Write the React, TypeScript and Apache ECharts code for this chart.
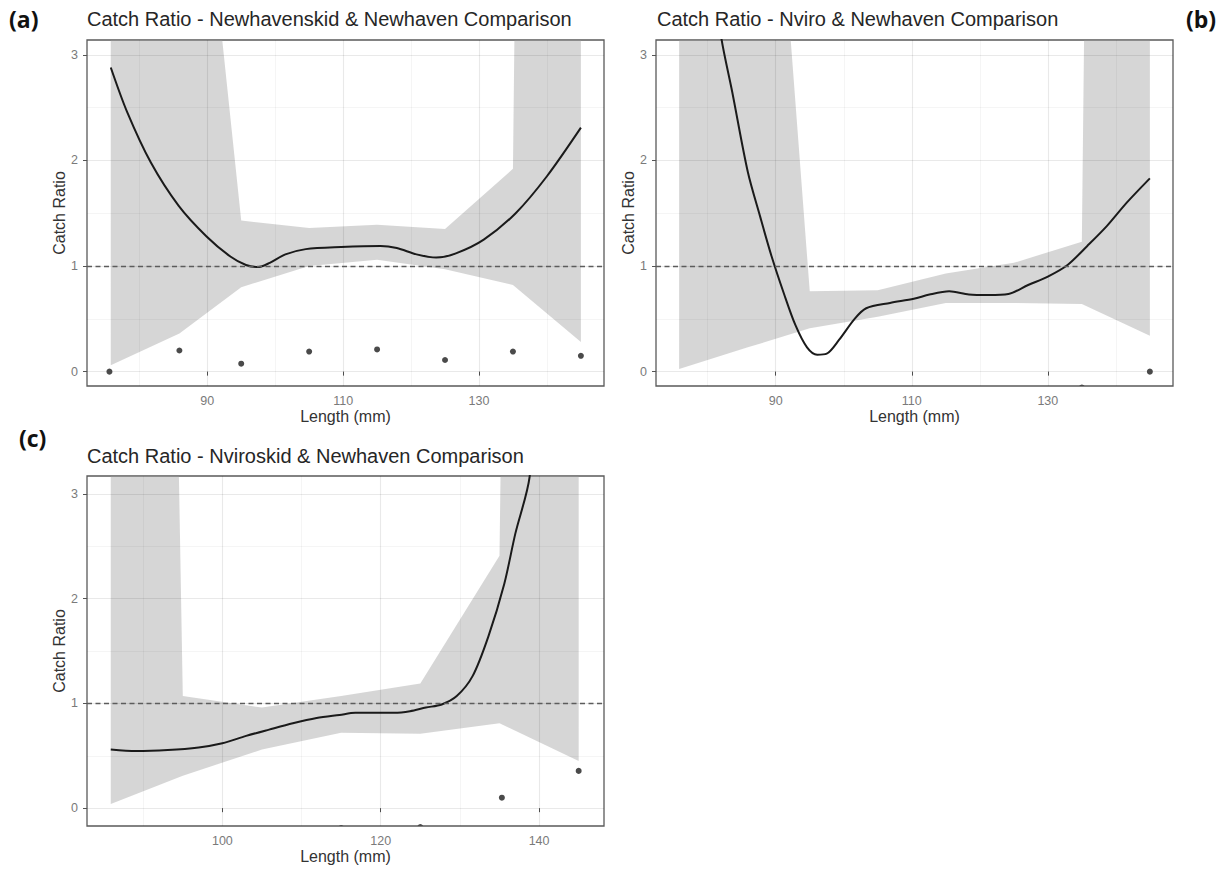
import React, { useEffect, useRef } from "react";
import * as echarts from "echarts";

// ---------- data ----------
const TITLES = [
  "Catch Ratio - Newhavenskid & Newhaven Comparison",
  "Catch Ratio - Nviro & Newhaven Comparison",
  "Catch Ratio - Nviroskid & Newhaven Comparison",
];
const PANEL_LABELS = ["(a)", "(b)", "(c)"];

const Y_LABELS = [0, 1, 2, 3];
const Y_GRID_MINOR = [0.5, 1.5, 2.5];
const X_LABELS_AB = [90, 110, 130];
const X_GRID_MINOR_AB = [80, 100, 120, 140];
const X_LABELS_C = [100, 120, 140];
const X_GRID_MINOR_C = [90, 110, 130];

// ribbon (confidence band) knots
const X_AB = [75.8, 85.9, 95, 105, 115, 125, 135, 145];
const A_LOWER = [0.06, 0.36, 0.8, 1.0, 1.06, 0.97, 0.82, 0.28];
const A_UPPER = [40, 7.0, 1.43, 1.36, 1.39, 1.35, 1.92, 60];
const B_LOWER = [0.025, 0.23, 0.41, 0.52, 0.65, 0.65, 0.64, 0.34];
const B_UPPER = [40, 8.5, 0.76, 0.77, 0.93, 1.03, 1.23, 60];
const X_C = [85.9, 95, 105, 115, 125, 135, 145];
const C_LOWER = [0.04, 0.31, 0.56, 0.72, 0.71, 0.81, 0.45];
const C_UPPER = [40, 1.07, 0.96, 1.07, 1.19, 2.41, 60];

// smoothed catch ratio curves
const A_CURVE_X = [75.8, 78.2, 81.7, 85.8, 89.9, 93.4, 95.7, 97.5, 99.2, 101.5, 104.5, 109.7, 115.5, 117.9, 120.8, 123.7, 126.6, 130.7, 135.4, 140.0, 145.0];
const A_CURVE_Y = [2.88, 2.46, 1.98, 1.57, 1.28, 1.09, 1.01, 0.99, 1.03, 1.11, 1.16, 1.18, 1.19, 1.17, 1.11, 1.08, 1.12, 1.25, 1.5, 1.85, 2.31];
const B_CURVE_X = [75.8, 78, 80, 82.0, 83.6, 85.9, 87.7, 89.4, 91.2, 92.9, 94.6, 96.1, 97.5, 99.3, 101.6, 103.3, 106.8, 110.3, 112.6, 115.5, 118.4, 121.3, 124.2, 127.1, 130.0, 132.9, 135.8, 138.7, 141.6, 145.0];
const B_CURVE_Y = [6.5, 5.2, 4.1, 3.16, 2.65, 1.89, 1.47, 1.09, 0.74, 0.44, 0.23, 0.16, 0.17, 0.3, 0.5, 0.6, 0.65, 0.69, 0.73, 0.76, 0.73, 0.725, 0.735, 0.82, 0.9, 1.01, 1.19, 1.38, 1.6, 1.83];
const C_CURVE_X = [85.9, 89.1, 93.1, 97.0, 100.0, 103.0, 105.9, 108.9, 111.9, 114.8, 116.8, 121.7, 123.7, 125.7, 127.7, 129.6, 131.6, 133.6, 135.6, 137.0, 138.8, 141, 145];
const C_CURVE_Y = [0.56, 0.545, 0.555, 0.58, 0.62, 0.69, 0.75, 0.81, 0.86, 0.89, 0.91, 0.91, 0.925, 0.96, 0.99, 1.07, 1.26, 1.64, 2.14, 2.62, 3.16, 5.0, 12.0];

// observed points
const A_DOT_X = [75.6, 85.9, 95, 105, 115, 125, 135, 145];
const A_DOT_Y = [0, 0.2, 0.075, 0.19, 0.21, 0.11, 0.19, 0.15];
const B_DOT_X = [135, 145];
const B_DOT_Y = [-0.15, 0];
const C_DOT_X = [115, 125, 135.3, 145];
const C_DOT_Y = [-0.19, -0.18, 0.1, 0.356];

const FONT = '"Liberation Sans", Arial, Helvetica, sans-serif';
const zip = (xs: number[], ys: number[]) => xs.map((x, i) => [x, ys[i]]);

type Panel = {
  grid: any;
  xMin: number; xMax: number; yMin: number; yMax: number;
  xLabels: number[]; xMinor: number[];
  rx: number[]; lower: number[]; upper: number[];
  cx: number[]; cy: number[];
  dx: number[]; dy: number[];
  nameGapX: number;
};

const PANELS: Panel[] = [
  {
    grid: { left: 87, top: 40, width: 517, height: 346 },
    xMin: 72.3, xMax: 148.4, yMin: -0.136, yMax: 3.14,
    xLabels: X_LABELS_AB, xMinor: X_GRID_MINOR_AB,
    rx: X_AB, lower: A_LOWER, upper: A_UPPER,
    cx: A_CURVE_X, cy: A_CURVE_Y, dx: A_DOT_X, dy: A_DOT_Y, nameGapX: 22,
  },
  {
    grid: { left: 656, top: 40, width: 517, height: 346 },
    xMin: 72.4, xMax: 148.4, yMin: -0.136, yMax: 3.14,
    xLabels: X_LABELS_AB, xMinor: X_GRID_MINOR_AB,
    rx: X_AB, lower: B_LOWER, upper: B_UPPER,
    cx: B_CURVE_X, cy: B_CURVE_Y, dx: B_DOT_X, dy: B_DOT_Y, nameGapX: 22,
  },
  {
    grid: { left: 87, top: 476, width: 517, height: 350 },
    xMin: 82.9, xMax: 148.2, yMin: -0.17, yMax: 3.17,
    xLabels: X_LABELS_C, xMinor: X_GRID_MINOR_C,
    rx: X_C, lower: C_LOWER, upper: C_UPPER,
    cx: C_CURVE_X, cy: C_CURVE_Y, dx: C_DOT_X, dy: C_DOT_Y, nameGapX: 22,
  },
];

function buildOption() {
  const grids: any[] = [];
  const xAxes: any[] = [];
  const yAxes: any[] = [];
  const series: any[] = [];

  PANELS.forEach((p, i) => {
    grids.push({ ...p.grid, show: true, borderColor: "#5a5a5a", borderWidth: 1.3, backgroundColor: "transparent", containLabel: false });
    xAxes.push({
      gridIndex: i, type: "value", min: p.xMin, max: p.xMax,
      axisLine: { show: false },
      axisTick: { show: true, customValues: p.xLabels, length: 4, lineStyle: { color: "#555" } },
      axisLabel: { customValues: p.xLabels, color: "#7a7a7a", fontSize: 12.5, margin: 8, fontFamily: FONT },
      splitLine: { show: false },
      name: "Length (mm)", nameLocation: "middle", nameGap: p.nameGapX,
      nameTextStyle: { color: "#333", fontSize: 16, fontFamily: FONT },
    });
    yAxes.push({
      gridIndex: i, type: "value", min: p.yMin, max: p.yMax,
      axisLine: { show: false },
      axisTick: { show: true, customValues: Y_LABELS, length: 4, lineStyle: { color: "#555" } },
      axisLabel: { customValues: Y_LABELS, color: "#7a7a7a", fontSize: 12.5, margin: 9, fontFamily: FONT },
      splitLine: { show: false },
      name: "Catch Ratio", nameLocation: "middle", nameGap: 19, nameRotate: 90,
      nameTextStyle: { color: "#333", fontSize: 16, fontFamily: FONT },
    });

    const major = { color: "rgba(0,0,0,0.085)", width: 1.1, type: "solid" };
    const minor = { color: "rgba(0,0,0,0.05)", width: 0.8, type: "solid" };
    const gridLines = [
      ...Y_LABELS.map((v) => ({ yAxis: v, lineStyle: major })),
      ...Y_GRID_MINOR.map((v) => ({ yAxis: v, lineStyle: minor })),
      ...p.xLabels.map((v) => ({ xAxis: v, lineStyle: major })),
      ...p.xMinor.map((v) => ({ xAxis: v, lineStyle: minor })),
    ];

    // confidence ribbon: one polygon (upper edge forward, lower edge back), clipped to the grid
    series.push({
      type: "custom", xAxisIndex: i, yAxisIndex: i, coordinateSystem: "cartesian2d",
      data: p.rx.map((x, k) => [x, p.lower[k], p.upper[k]]),
      encode: { x: 0, y: [1, 2] }, clip: true, z: 2, silent: true,
      renderItem: (params: any, api: any) => {
        if (params.dataIndexInside !== 0) return null;
        const up = p.rx.map((x, k) => api.coord([x, p.upper[k]]));
        const lo = p.rx.map((x, k) => api.coord([x, p.lower[k]])).reverse();
        return {
          type: "polygon",
          shape: { points: [...up, ...lo] },
          style: { fill: "rgba(153,153,153,0.4)" },
        };
      },
    });
    // fitted curve + reference lines
    series.push({
      type: "line", xAxisIndex: i, yAxisIndex: i,
      data: zip(p.cx, p.cy), symbol: "none", showSymbol: false, smooth: 0.3,
      lineStyle: { color: "#1a1a1a", width: 2 }, silent: true, z: 4, clip: true,
      markLine: {
        silent: true, symbol: ["none", "none"], label: { show: false }, animation: false,
        data: [
          ...gridLines,
          { yAxis: 1, lineStyle: { color: "#5c5c5c", width: 1.4, type: [5, 3.5] } },
        ],
      },
    });
    // observed points
    series.push({
      type: "custom", xAxisIndex: i, yAxisIndex: i, coordinateSystem: "cartesian2d",
      data: zip(p.dx, p.dy), clip: true, z: 6, silent: true,
      encode: { x: 0, y: 1 },
      renderItem: (params: any, api: any) => {
        const pt = api.coord([api.value(0), api.value(1)]);
        return { type: "circle", shape: { cx: pt[0], cy: pt[1], r: 3 }, style: { fill: "#4a4a4a" } };
      },
    });
  });

  const titles: any[] = [
    { text: TITLES[0], left: 87, top: 9 },
    { text: TITLES[1], left: 657, top: 9 },
    { text: TITLES[2], left: 87, top: 446 },
  ].map((t) => ({ ...t, padding: 0, textStyle: { fontSize: 20, fontWeight: "normal", color: "#262626", fontFamily: FONT } }));
  const labels: any[] = [
    { text: PANEL_LABELS[0], left: 9, top: 7 },
    { text: PANEL_LABELS[1], left: 1186, top: 7 },
    { text: PANEL_LABELS[2], left: 19, top: 426 },
  ].map((t) => ({ ...t, padding: 0, textStyle: { fontSize: 23, fontWeight: "bold", color: "#111", fontFamily: '"Open Sans", "Liberation Sans", sans-serif' } }));

  return {
    animation: false,
    backgroundColor: "#ffffff",
    title: [...titles, ...labels],
    grid: grids,
    xAxis: xAxes,
    yAxis: yAxes,
    series,
  };
}

export default function App() {
  const ref = useRef<HTMLDivElement>(null);
  useEffect(() => {
    if (!ref.current) return;
    const chart = echarts.init(ref.current, undefined, { renderer: "svg" });
    chart.setOption(buildOption() as any);
    return () => chart.dispose();
  }, []);
  return (
    <div
      ref={ref}
      style={{ position: "absolute", left: 0, top: 0, width: 1230, height: 870, background: "#fff" }}
    />
  );
}
